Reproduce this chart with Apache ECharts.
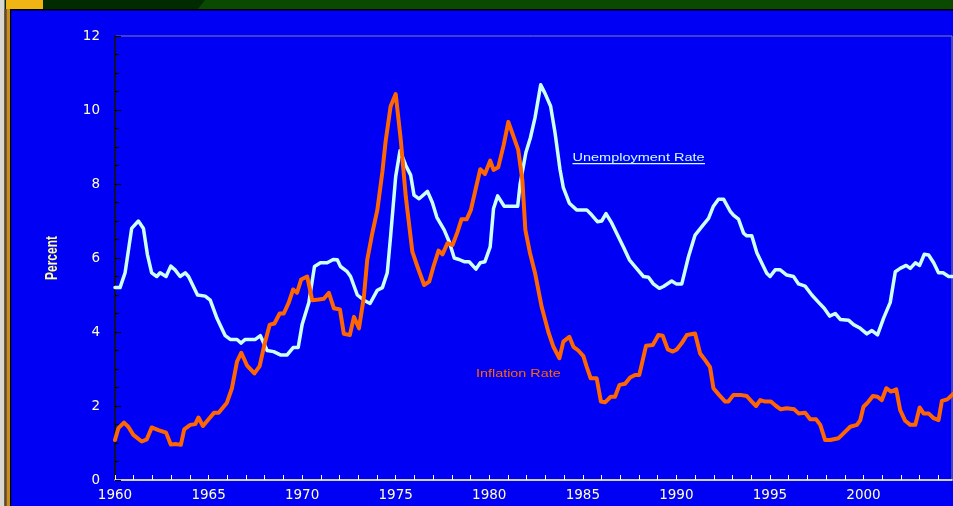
<!DOCTYPE html>
<html>
<head>
<meta charset="utf-8">
<script src="https://cdn.jsdelivr.net/npm/echarts@6/dist/echarts.min.js"></script>
<style>
html,body{margin:0;padding:0;background:#0000f5;}
#c{width:953px;height:506px;}
</style>
</head>
<body>
<div id="c"></div>
<script>
// ---- data ----
const unempYears = [1960.0,1960.27,1960.54,1960.89,1961.25,1961.52,1961.73,1961.96,1962.23,1962.41,1962.73,1962.98,1963.21,1963.48,1963.75,1963.93,1964.41,1964.82,1965.09,1965.45,1965.89,1966.16,1966.52,1966.73,1966.96,1967.5,1967.77,1968.13,1968.48,1968.84,1969.2,1969.52,1969.79,1970.0,1970.36,1970.66,1970.98,1971.34,1971.66,1971.88,1972.05,1972.41,1972.59,1972.95,1973.3,1973.63,1974.02,1974.29,1974.55,1974.73,1975.0,1975.23,1975.54,1975.8,1975.98,1976.25,1976.7,1976.96,1977.2,1977.59,1977.86,1978.13,1978.39,1978.66,1978.93,1979.29,1979.52,1979.77,1980.05,1980.23,1980.45,1980.8,1981.16,1981.52,1981.65,1981.96,1982.2,1982.45,1982.75,1982.98,1983.28,1983.52,1983.78,1983.96,1984.28,1984.67,1985.21,1985.48,1985.78,1986.01,1986.24,1986.55,1986.81,1987.17,1987.49,1987.79,1988.24,1988.51,1988.77,1989.09,1989.31,1989.75,1989.99,1990.29,1990.65,1991.0,1991.36,1991.72,1991.98,1992.25,1992.52,1992.87,1993.05,1993.32,1993.59,1993.76,1994.03,1994.3,1994.57,1994.83,1995.01,1995.28,1995.55,1995.9,1996.26,1996.53,1996.88,1997.24,1997.6,1997.9,1998.19,1998.49,1998.76,1999.2,1999.47,1999.83,2000.18,2000.45,2000.75,2001.07,2001.43,2001.7,2001.96,2002.28,2002.5,2002.77,2003.0,2003.25,2003.48,2003.75,2004.01,2004.25,2004.55,2004.8];
const unempValues = [5.2,5.2,5.6,6.8,7.0,6.8,6.1,5.6,5.5,5.6,5.5,5.78,5.68,5.5,5.6,5.5,5.0,4.97,4.86,4.37,3.9,3.8,3.8,3.7,3.8,3.8,3.9,3.5,3.47,3.38,3.38,3.58,3.58,4.2,4.8,5.77,5.87,5.87,5.96,5.95,5.77,5.63,5.5,5.0,4.86,4.77,5.13,5.2,5.6,6.6,8.2,8.9,8.5,8.24,7.7,7.6,7.8,7.5,7.1,6.76,6.44,6.0,5.96,5.9,5.9,5.7,5.87,5.9,6.3,7.34,7.68,7.4,7.4,7.4,8.0,8.85,9.25,9.8,10.68,10.45,10.1,9.37,8.4,7.9,7.48,7.3,7.3,7.16,6.98,7.0,7.2,6.94,6.67,6.3,5.95,5.77,5.5,5.48,5.3,5.18,5.23,5.38,5.3,5.3,6.04,6.62,6.85,7.07,7.4,7.59,7.59,7.27,7.16,7.05,6.67,6.6,6.6,6.14,5.86,5.59,5.5,5.68,5.68,5.54,5.5,5.3,5.24,5.0,4.8,4.64,4.43,4.5,4.34,4.32,4.2,4.1,3.95,4.04,3.92,4.37,4.8,5.63,5.72,5.8,5.72,5.87,5.8,6.1,6.08,5.87,5.6,5.6,5.5,5.5];

const inflYears = [1960.0,1960.18,1960.48,1960.71,1960.98,1961.43,1961.7,1961.96,1962.32,1962.73,1962.98,1963.27,1963.52,1963.7,1964.02,1964.29,1964.46,1964.7,1965.0,1965.3,1965.54,1965.98,1966.25,1966.52,1966.75,1967.05,1967.45,1967.73,1968.0,1968.27,1968.52,1968.8,1969.02,1969.29,1969.52,1969.73,1969.95,1970.27,1970.54,1970.89,1971.16,1971.43,1971.7,1972.02,1972.23,1972.55,1972.77,1973.04,1973.3,1973.48,1973.75,1974.02,1974.29,1974.46,1974.73,1975.0,1975.27,1975.54,1975.89,1976.16,1976.52,1976.79,1977.02,1977.29,1977.5,1977.77,1978.04,1978.3,1978.52,1978.8,1979.02,1979.29,1979.52,1979.77,1980.05,1980.23,1980.48,1980.77,1981.02,1981.3,1981.55,1981.77,1981.93,1982.17,1982.45,1982.8,1983.16,1983.43,1983.75,1983.96,1984.28,1984.5,1984.76,1985.03,1985.21,1985.42,1985.74,1985.97,1986.19,1986.49,1986.72,1986.96,1987.26,1987.53,1987.79,1988.02,1988.38,1988.74,1989.04,1989.27,1989.54,1989.81,1990.02,1990.29,1990.56,1991.0,1991.27,1991.54,1991.8,1991.98,1992.28,1992.61,1992.78,1993.05,1993.41,1993.76,1994.03,1994.26,1994.48,1994.75,1995.05,1995.33,1995.58,1995.9,1996.3,1996.53,1996.88,1997.15,1997.47,1997.69,1997.95,1998.22,1998.67,1998.93,1999.29,1999.65,1999.83,2000.0,2000.27,2000.5,2000.75,2000.98,2001.22,2001.47,2001.75,2001.96,2002.23,2002.5,2002.77,2003.0,2003.21,2003.48,2003.75,2004.01,2004.19,2004.48,2004.82];
const inflValues = [1.08,1.4,1.55,1.44,1.22,1.04,1.1,1.42,1.35,1.28,0.96,0.97,0.95,1.37,1.49,1.51,1.69,1.46,1.64,1.82,1.82,2.09,2.48,3.2,3.44,3.1,2.88,3.08,3.69,4.2,4.23,4.5,4.5,4.8,5.15,5.06,5.42,5.5,4.86,4.88,4.9,5.06,4.64,4.61,3.95,3.92,4.41,4.1,4.95,5.95,6.67,7.3,8.33,9.14,10.1,10.43,9.2,7.66,6.17,5.77,5.27,5.36,5.77,6.2,6.1,6.4,6.35,6.7,7.05,7.05,7.3,7.9,8.4,8.27,8.63,8.38,8.45,9.05,9.68,9.28,8.92,8.1,6.76,6.15,5.59,4.68,4.0,3.6,3.29,3.74,3.87,3.6,3.5,3.35,3.06,2.75,2.75,2.12,2.1,2.25,2.25,2.57,2.6,2.77,2.84,2.84,3.63,3.65,3.92,3.9,3.53,3.47,3.53,3.7,3.92,3.96,3.42,3.24,3.05,2.48,2.3,2.12,2.12,2.3,2.3,2.27,2.12,2.0,2.16,2.12,2.12,2.0,1.91,1.94,1.91,1.8,1.82,1.64,1.64,1.49,1.08,1.08,1.13,1.26,1.44,1.49,1.62,1.98,2.12,2.27,2.25,2.16,2.48,2.39,2.45,1.89,1.6,1.49,1.49,1.96,1.8,1.8,1.67,1.62,2.14,2.18,2.34];

const yTickValues = [0, 2, 4, 6, 8, 10, 12];
const xLabelYears = [1960, 1965, 1970, 1975, 1980, 1985, 1990, 1995, 2000];
const seriesNames = ['Unemployment Rate', 'Inflation Rate'];
const yAxisTitle = 'Percent';

// ---- chart ----
const chart = echarts.init(document.getElementById('c'), null, {renderer: 'canvas'});
const pair = (xs, ys) => xs.map((x, i) => [x, ys[i]]);
const BLUE = '#0000f5';
const CYAN = '#ccffff';
const ORANGE = '#ff6600';
const CREAM = '#ffffcc';

chart.setOption({
  backgroundColor: BLUE,
  animation: false,
  grid: {left: 115, top: 36, right: 1, bottom: 26, show: true, borderColor: '#8080a0', borderWidth: 1, backgroundColor: 'transparent'},
  xAxis: {
    type: 'value', min: 1960, max: 2004.73, interval: 1,
    axisLine: {show: true, lineStyle: {color: CREAM, width: 1.5}},
    axisTick: {show: true, inside: true, length: 5, lineStyle: {color: CREAM, width: 1}},
    splitLine: {show: false},
    axisLabel: {
      color: CREAM, fontFamily: 'DejaVu Sans', fontSize: 13.5, margin: 8, showMaxLabel: false,
      formatter: v => xLabelYears.indexOf(Math.round(v)) >= 0 && Math.abs(v - Math.round(v)) < 1e-6 ? String(Math.round(v)) : ''
    }
  },
  yAxis: {
    type: 'value', min: yTickValues[0], max: yTickValues[yTickValues.length - 1], interval: 2,
    axisLine: {show: true, lineStyle: {color: '#000000', width: 1.5}},
    axisTick: {show: true, inside: true, length: 6, lineStyle: {color: '#000000', width: 1.2}},
    minorTick: {show: true, splitNumber: 4, length: 4, lineStyle: {color: '#000000', width: 1.2}},
    splitLine: {show: false},
    axisLabel: {color: CREAM, fontFamily: 'DejaVu Sans', fontSize: 13.5, margin: 15}
  },
  series: [
    {name: seriesNames[0], type: 'line', data: pair(unempYears, unempValues), showSymbol: false, smooth: false,
     lineStyle: {color: CYAN, width: 3.5, join: 'round', cap: 'round'}, z: 3},
    {name: seriesNames[1], type: 'line', data: pair(inflYears, inflValues), showSymbol: false, smooth: false,
     lineStyle: {color: ORANGE, width: 4, join: 'round', cap: 'round'}, z: 4}
  ],
  graphic: [
    // top band
    {type: 'rect', shape: {x: 0, y: 0, width: 953, height: 9}, style: {fill: '#002a00'}, silent: true, z: 10},
    {type: 'polygon', shape: {points: [[205, 0], [953, 0], [953, 9], [198, 9]]}, style: {fill: '#0a4a00'}, silent: true, z: 10},
    {type: 'rect', shape: {x: 6, y: 0, width: 37, height: 9}, style: {fill: '#f0b414'}, silent: true, z: 11},
    {type: 'rect', shape: {x: 10, y: 9, width: 943, height: 1.5}, style: {fill: '#000000'}, silent: true, z: 11},
    // left border
    {type: 'rect', shape: {x: 0, y: 0, width: 4.5, height: 506}, style: {fill: '#d8d8d0'}, silent: true, z: 12},
    {type: 'rect', shape: {x: 4.5, y: 9, width: 2, height: 497}, style: {fill: '#6a4a00'}, silent: true, z: 12},
    {type: 'rect', shape: {x: 6.5, y: 9, width: 3.5, height: 497}, style: {fill: '#c89012'}, silent: true, z: 12},
    {type: 'rect', shape: {x: 10, y: 9, width: 1.2, height: 497}, style: {fill: '#000000'}, silent: true, z: 12},
    // y axis title
    {type: 'text', x: 53, y: 258, rotation: Math.PI / 2, scaleX: 0.75, scaleY: 1,
     style: {text: yAxisTitle, fill: '#ffff99', font: 'bold 16px "Liberation Sans", Arial, sans-serif', align: 'center', verticalAlign: 'middle'}, silent: true, z: 12},
    // series labels
    {type: 'text', x: 572.5, y: 158, scaleX: 1.26, scaleY: 1,
     style: {text: seriesNames[0], fill: CYAN, font: '11.5px "Liberation Sans", Arial, sans-serif', align: 'left', verticalAlign: 'middle'}, silent: true, z: 12},
    {type: 'rect', shape: {x: 572.5, y: 163, width: 132.5, height: 1.3}, style: {fill: CYAN}, silent: true, z: 12},
    {type: 'text', x: 476, y: 373.5, scaleX: 1.25, scaleY: 1,
     style: {text: seriesNames[1], fill: ORANGE, font: '11.5px "Liberation Sans", Arial, sans-serif', align: 'left', verticalAlign: 'middle'}, silent: true, z: 12}
  ]
});
</script>
</body>
</html>
